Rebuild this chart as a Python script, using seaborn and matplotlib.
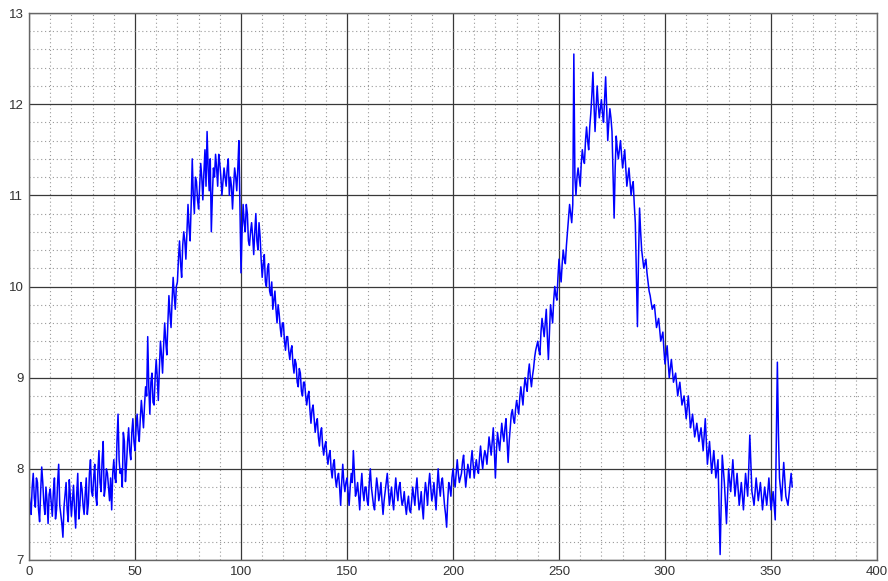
import numpy as np
import matplotlib
matplotlib.use("Agg")
import matplotlib.pyplot as plt
from matplotlib.ticker import MultipleLocator
import seaborn as sns
import pandas as pd

# readings on whole degrees
angle = np.arange(0, 361)
signal = [
    7.72, 7.5, 7.95, 7.58, 7.85, 7.42, 8.02, 7.62, 7.8, 7.4,
    7.78, 7.48, 7.9, 7.55, 8.05, 7.5, 7.25, 7.72, 7.55, 7.88,
    7.48, 7.82, 7.35, 7.95, 7.6, 7.78, 7.5, 7.9, 7.62, 8.1,
    7.7, 8.05, 7.6, 8.2, 7.75, 8.3, 7.8, 7.95, 7.65, 7.55,
    8.1, 7.85, 8.6, 7.95, 7.8, 8.3, 8.05, 8.45, 8.1, 8.55,
    8.2, 8.6, 8.3, 8.75, 8.45, 8.9, 9.45, 8.6, 9.05, 8.7,
    9.2, 8.75, 9.4, 9.05, 9.6, 9.25, 9.9, 9.55, 10.1, 9.75,
    10.05, 10.5, 10.1, 10.6, 10.3, 10.9, 10.5, 11.4, 10.8, 11.15,
    10.85, 11.35, 10.95, 11.5, 11.7, 11.05, 10.6, 11.3, 11.45, 11.1,
    11.35, 11.0, 11.3, 11.1, 11.4, 11.2, 10.85, 11.3, 11.05, 11.6,
    10.15, 10.9, 10.6, 10.8, 10.45, 10.7, 10.35, 10.8, 10.4, 10.55,
    10.1, 10.35, 10.0, 10.25, 9.9, 9.75, 9.95, 9.6, 9.7, 9.45,
    9.6, 9.3, 9.45, 9.2, 9.35, 9.05, 9.15, 8.9, 9.05, 8.8,
    8.95, 8.7, 8.85, 8.5, 8.7, 8.4, 8.55, 8.25, 8.45, 8.15,
    8.3, 8.05, 8.2, 7.9, 8.1, 7.8, 7.95, 7.6, 8.05, 7.75,
    7.9, 7.6, 7.95, 8.2, 7.7, 7.85, 7.55, 7.95, 7.65, 7.8,
    7.6, 8.0, 7.7, 7.55, 7.9, 7.65, 7.85, 7.5, 7.75, 7.95,
    7.6, 7.8, 7.55, 7.9, 7.65, 7.85, 7.6, 7.75, 7.5, 7.7,
    7.52, 7.8, 7.6, 7.9, 7.55, 7.75, 7.45, 7.85, 7.6, 7.95,
    7.65, 7.85, 7.55, 8.0, 7.7, 7.9, 7.6, 7.36, 7.85, 7.7,
    8.0, 7.8, 8.1, 7.85, 7.95, 8.15, 7.8, 8.05, 7.9, 8.2,
    7.9, 8.1, 7.95, 8.25, 8.0, 8.2, 8.05, 8.35, 8.15, 8.45,
    7.9, 8.4, 8.2, 8.5, 8.3, 8.55, 8.07, 8.45, 8.65, 8.5,
    8.75, 8.6, 8.9, 8.7, 9.0, 8.85, 9.15, 8.9, 9.1, 9.3,
    9.4, 9.25, 9.65, 9.45, 9.75, 9.2, 9.8, 9.6, 10.0, 9.85,
    10.3, 10.05, 10.4, 10.25, 10.6, 10.9, 10.7, 12.55, 11.0, 11.3,
    11.1, 11.5, 11.35, 11.75, 11.5, 11.9, 12.35, 11.7, 12.2, 11.85,
    12.05, 11.8, 12.3, 11.6, 11.95, 11.7, 10.75, 11.65, 11.4, 11.6,
    11.3, 11.5, 11.1, 11.3, 11.0, 11.15, 10.7, 9.56, 10.86, 10.4,
    10.2, 10.3, 10.05, 9.9, 9.75, 9.8, 9.55, 9.65, 9.4, 9.5,
    9.15, 9.35, 9.0, 9.2, 8.95, 9.05, 8.8, 8.95, 8.7, 8.8,
    8.55, 8.8, 8.45, 8.6, 8.35, 8.5, 8.3, 8.45, 8.2, 8.55,
    8.05, 8.3, 7.95, 8.2, 7.9, 8.1, 7.06, 8.15, 7.85, 7.4,
    8.0, 7.75, 8.1, 7.7, 7.95, 7.6, 7.85, 7.55, 7.95, 7.7,
    8.37, 7.75, 7.6, 7.9, 7.65, 7.85, 7.55, 7.8, 7.6, 7.9,
    7.55, 7.75, 7.44, 9.17, 7.9, 7.65, 8.07, 7.7, 7.6, 7.85,
    7.8,
]

# readings in between, on the half degrees
angle_half = np.arange(0, 360) + 0.5
signal_half = [
    7.62, 7.8, 7.68, 7.9, 7.55, 7.75, 7.85, 7.5, 7.65, 7.72,
    7.62, 7.75, 7.45, 7.85, 7.6, 7.4, 7.58, 7.85, 7.42, 7.7,
    7.65, 7.55, 7.72, 7.45, 7.85, 7.6, 7.72, 7.5, 7.95, 7.75,
    7.9, 7.7, 7.98, 7.85, 8.1, 7.7, 8.0, 7.8, 7.9, 7.95,
    7.9, 8.3, 8.1, 8.0, 8.4, 7.86, 8.3, 8.2, 8.4, 8.3,
    8.45, 8.4, 8.55, 8.6, 8.7, 8.8, 8.9, 8.95, 8.73, 9.0,
    9.0, 9.1, 9.25, 9.35, 9.4, 9.6, 9.7, 9.85, 9.9, 10.0,
    10.3, 10.25, 10.45, 10.5, 10.6, 10.65, 10.9, 11.0, 11.2, 10.95,
    11.1, 11.2, 11.25, 11.1, 11.3, 11.4, 11.0, 11.2, 11.3, 11.45,
    11.2, 11.15, 11.2, 11.3, 11.0, 11.1, 11.1, 11.2, 11.3, 10.9,
    10.6, 10.7, 10.9, 10.5, 10.6, 10.55, 10.6, 10.5, 10.7, 10.3,
    10.25, 10.05, 10.2, 9.95, 10.05, 9.85, 9.75, 9.8, 9.55, 9.6,
    9.4, 9.45, 9.3, 9.3, 9.15, 9.2, 8.95, 9.1, 8.85, 8.95,
    8.8, 8.8, 8.65, 8.65, 8.55, 8.5, 8.35, 8.4, 8.25, 8.25,
    8.15, 8.15, 8.0, 8.05, 7.9, 7.9, 7.8, 7.85, 7.85, 7.85,
    7.75, 7.8, 7.85, 7.95, 7.75, 7.7, 7.8, 7.75, 7.8, 7.65,
    7.85, 7.8, 7.6, 7.75, 7.8, 7.72, 7.65, 7.65, 7.85, 7.78,
    7.7, 7.65, 7.75, 7.75, 7.8, 7.7, 7.65, 7.6, 7.62, 7.55,
    7.65, 7.7, 7.78, 7.7, 7.62, 7.58, 7.7, 7.75, 7.82, 7.8,
    7.72, 7.7, 7.8, 7.82, 7.85, 7.75, 7.5, 7.65, 7.8, 7.9,
    7.88, 7.95, 7.95, 7.9, 8.08, 7.95, 7.92, 7.98, 8.08, 8.05,
    8.02, 8.0, 8.12, 8.1, 8.12, 8.15, 8.2, 8.25, 8.3, 8.2,
    8.2, 8.3, 8.35, 8.38, 8.45, 8.3, 8.3, 8.6, 8.55, 8.65,
    8.68, 8.78, 8.8, 8.88, 8.92, 9.05, 9.0, 9.02, 9.22, 9.35,
    9.3, 9.5, 9.55, 9.6, 9.45, 9.5, 9.7, 9.85, 9.9, 10.1,
    10.15, 10.25, 10.3, 10.45, 10.75, 10.8, 10.9, 11.2, 11.2, 11.2,
    11.35, 11.4, 11.6, 11.6, 11.75, 12.1, 12.0, 11.95, 12.0, 11.95,
    11.9, 12.05, 11.95, 11.8, 11.85, 11.2, 11.3, 11.5, 11.5, 11.45,
    11.4, 11.3, 11.2, 11.15, 11.1, 10.9, 10.1, 10.3, 10.6, 10.3,
    10.25, 10.15, 9.95, 9.82, 9.78, 9.68, 9.6, 9.52, 9.45, 9.3,
    9.25, 9.18, 9.1, 9.08, 9.0, 8.92, 8.88, 8.82, 8.75, 8.68,
    8.68, 8.62, 8.52, 8.48, 8.42, 8.4, 8.38, 8.32, 8.38, 8.3,
    8.18, 8.12, 8.08, 8.05, 8.0, 7.6, 7.6, 8.0, 7.62, 7.7,
    7.88, 7.92, 7.9, 7.82, 7.78, 7.72, 7.7, 7.75, 7.82, 8.0,
    8.05, 7.68, 7.75, 7.78, 7.75, 7.7, 7.68, 7.7, 7.75, 7.72,
    7.65, 7.6, 8.3, 8.4, 7.78, 7.85, 7.88, 7.65, 7.72, 7.95,
]

df = pd.concat([
    pd.DataFrame({"angle": angle, "value": signal}),
    pd.DataFrame({"angle": angle_half, "value": signal_half}),
]).sort_values("angle")

sns.set_style("white")
plt.rcParams['font.family'] = ['Liberation Sans', 'DejaVu Sans']

fig = plt.figure(figsize=(8.88, 5.81), dpi=100)
ax = fig.add_axes([29 / 888, 1 - 560 / 581, (877 - 29) / 888, (560 - 13) / 581])

sns.lineplot(data=df, x="angle", y="value", ax=ax, color="#0000ff",
             linewidth=1.1, estimator=None, sort=False)

ax.set_xlim(0, 400)
ax.set_ylim(7, 13)
ax.xaxis.set_major_locator(MultipleLocator(50))
ax.yaxis.set_major_locator(MultipleLocator(1))
ax.xaxis.set_minor_locator(MultipleLocator(10))
ax.yaxis.set_minor_locator(MultipleLocator(0.2))

ax.grid(which="major", color="#383838", linestyle="-", linewidth=0.9)
ax.grid(which="minor", color="#999999", linestyle=(0, (1, 2.5)), linewidth=0.8)
ax.set_axisbelow(True)

ax.tick_params(which="both", length=0, labelsize=9.5, labelcolor="#333333", pad=4)
ax.set_xlabel("")
ax.set_ylabel("")
for s in ax.spines.values():
    s.set_color("#666666")
    s.set_linewidth(1.0)

fig.savefig("out.png", dpi=100)
